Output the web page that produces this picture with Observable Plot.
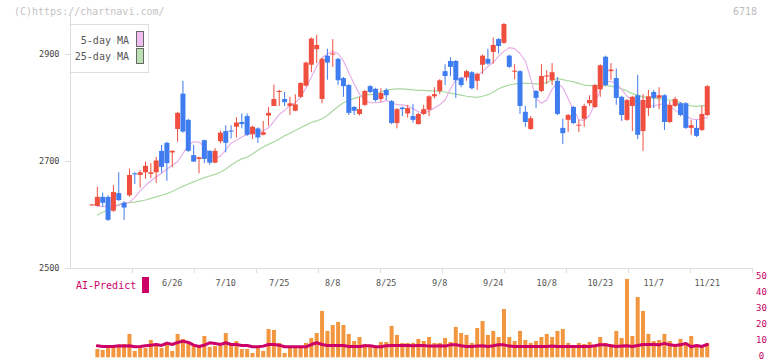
<!DOCTYPE html>
<html><head><meta charset="utf-8">
<script src="https://cdn.jsdelivr.net/npm/d3@7"></script>
<script src="https://cdn.jsdelivr.net/npm/@observablehq/plot@0.6"></script>
<style>
body{margin:0;background:#fff;}
#wrap{position:relative;width:772px;height:361px;overflow:hidden;font-family:"DejaVu Sans Mono",monospace;}
#wrap svg{position:absolute;left:0;top:0;}
.t{position:absolute;white-space:pre;font-size:10px;line-height:12px;}
.sw{position:absolute;box-sizing:border-box;}
</style></head><body><div id="wrap"></div>
<script>
// ---- data ----
const open = [2617,2616,2633,2633,2607,2640,2622,2636,2677,2674, 2679,2676,2679,2719,2734,2716,2760,2826,2777,2711, 2704,2739,2719,2697,2737,2756,2757,2764,2773,2784, 2750,2761,2749,2785,2803,2829,2816,2803,2794,2820, 2841,2880,2909,2816,2897,2899,2891,2855,2842,2801, 2788,2805,2840,2835,2816,2833,2812,2771,2800,2789, 2784,2769,2788,2796,2821,2831,2868,2887,2887,2855, 2857,2866,2850,2880,2891,2904,2928,2921,2897,2867, 2868,2792,2760,2831,2831,2858,2851,2850,2762,2777, 2801,2766,2779,2808,2801,2834,2895,2868,2855,2820, 2777,2803,2823,2756,2799,2829,2818,2823,2773,2803, 2808,2808,2762,2762,2758,2786];
const high = [2619,2652,2641,2636,2655,2679,2625,2686,2679,2683, 2699,2696,2708,2730,2736,2720,2792,2850,2779,2730, 2708,2740,2720,2724,2757,2767,2767,2782,2789,2789, 2766,2763,2775,2801,2843,2833,2829,2820,2825,2847, 2886,2931,2936,2893,2910,2928,2893,2857,2844,2803, 2820,2833,2842,2837,2836,2836,2814,2799,2802,2805, 2807,2790,2805,2823,2838,2853,2881,2894,2889,2857, 2870,2868,2865,2899,2910,2931,2930,2958,2899,2881, 2870,2803,2784,2833,2881,2870,2883,2857,2779,2788, 2803,2777,2807,2823,2844,2881,2897,2883,2873,2822, 2816,2822,2861,2825,2833,2833,2838,2825,2812,2820, 2810,2810,2777,2777,2803,2842];
const low = [2617,2616,2615,2588,2605,2625,2590,2633,2657,2650, 2667,2668,2659,2678,2663,2689,2736,2753,2717,2698, 2677,2696,2693,2696,2733,2716,2742,2744,2761,2747, 2741,2734,2748,2766,2803,2803,2803,2786,2793,2818, 2839,2866,2883,2808,2852,2876,2842,2820,2786,2786, 2785,2803,2827,2811,2811,2814,2769,2761,2784,2781, 2772,2768,2786,2784,2817,2825,2842,2859,2818,2838, 2850,2834,2833,2863,2880,2882,2901,2919,2874,2853, 2788,2764,2758,2799,2829,2844,2842,2786,2732,2754, 2769,2754,2764,2803,2799,2820,2840,2852,2805,2775, 2775,2756,2741,2719,2784,2799,2797,2758,2771,2801, 2784,2760,2749,2745,2756,2784];
const close = [2619,2633,2622,2590,2642,2627,2613,2674,2675,2679, 2691,2679,2701,2689,2696,2719,2790,2755,2719,2699, 2707,2704,2697,2719,2753,2734,2755,2772,2769,2749, 2764,2744,2754,2790,2816,2831,2810,2808,2806,2846, 2884,2929,2917,2891,2884,2901,2851,2840,2790,2794, 2797,2831,2829,2814,2827,2823,2771,2797,2797,2799, 2777,2788,2797,2821,2825,2851,2859,2876,2851,2842, 2868,2836,2863,2897,2882,2917,2915,2956,2876,2869, 2803,2773,2780,2818,2859,2860,2866,2788,2752,2786, 2771,2768,2803,2814,2842,2879,2842,2871,2818,2786, 2814,2820,2749,2814,2821,2818,2823,2773,2805,2816, 2786,2762,2767,2747,2788,2840];
const ma5 = [null, 2616,2616,2615,2615,2618,2622,2624,2633,2645, 2655,2664,2671,2678,2686,2693,2700,2715,2731,2737, 2736,2728,2714,2706,2710,2722,2734,2740,2746,2751, 2756,2757,2757,2763,2775,2788,2796,2804,2810,2820, 2838,2858,2878,2894,2901,2906,2902,2888,2866,2845, 2826,2814,2810,2810,2811,2814,2810,2806,2806,2804, 2799,2793,2791,2794,2800,2806,2815,2836,2852,2857, 2857,2857,2860,2868,2878,2885,2897,2906,2913,2911, 2902,2888,2855,2818,2809,2815,2835,2847,2838,2818, 2797,2778,2777,2786,2808,2834,2849,2850,2846,2835, 2822,2815,2810,2808,2803,2804,2806,2809,2803,2796, 2789,2785,2780,2778,2780,2782];
const ma25 = [null, 2600,2605,2610,2615,2620,2622,2623,2624,2626, 2628,2631,2634,2637,2640,2644,2649,2654,2658,2662, 2666,2670,2673,2676,2680,2686,2693,2700,2705,2708, 2714,2721,2727,2732,2737,2742,2748,2753,2758,2763, 2768,2773,2776,2780,2786,2795,2803,2810,2814,2818, 2821,2825,2825,2826,2830,2833,2835,2836,2836,2835, 2834,2833,2833,2832,2832,2831,2830,2828,2826,2824, 2822,2821,2820,2822,2825,2830,2836,2840,2843,2845, 2846,2846,2846,2845,2845,2848,2852,2855,2853,2851, 2849,2846,2843,2842,2842,2842,2842,2841,2839,2836, 2832,2827,2824,2821,2819,2818,2817,2816,2815,2813, 2810,2806,2804,2803,2804,2805];
const volume = [null, 5.2,4.6,5.8,6.5,7.1,8.3,14.6,4.0,5.8, 5.8,10.8,8.3,5.8,8.3,4.0,14.6,11.5,8.3,7.1, 7.1,13.3,6.5,7.1,7.1,15.2,8.3,10.2,5.2,5.2, 2.7,5.8,4.0,17.7,17.1,9.0,2.7,6.5,6.5,6.5, 9.0,12.1,15.2,29.0,16.5,20.2,22.1,20.2,14.6,10.2, 12.7,8.3,6.5,6.5,9.6,9.6,19.6,14.0,9.0,9.0, 9.0,11.5,10.2,12.7,9.0,9.0,12.1,9.6,19.0,15.2, 14.0,9.0,18.3,22.7,14.0,16.5,12.7,30.2,12.7,10.2, 16.5,10.8,9.0,10.2,12.7,14.6,12.7,16.5,17.7,9.0, 6.5,9.0,8.3,9.6,6.5,12.7,9.0,8.3,16.5,12.1, 49.0,13.3,37.7,29.0,14.6,10.2,10.8,14.6,10.2,7.7, 11.5,9.0,13.3,7.7,6.5,9.0];
const aiPredict = [null, 7.5,7.1,7.1,7.1,7.5,7.3,7.5,6.9,7.1, 7.5,7.9,8.3,7.7,9.2,8.3,9.6,10.4,9.6,7.9, 7.1,7.9,9.4,9.0,8.3,9.4,8.3,8.3,7.7,7.7, 6.9,6.9,7.3,8.3,8.3,7.9,6.9,6.9,6.9,6.9, 6.9,8.3,9.4,8.3,7.7,7.7,7.7,7.7,7.1,7.1, 7.1,7.5,7.5,6.9,6.9,7.5,7.7,7.7,7.7,7.7, 7.5,7.7,7.7,7.3,7.3,7.5,7.3,8.1,8.1,7.5, 7.1,7.1,7.3,7.5,7.1,7.5,8.1,8.1,7.3,7.1, 7.1,7.1,7.1,7.1,7.1,7.1,7.3,7.1,7.1,7.1, 7.1,7.1,7.1,7.1,7.5,8.1,8.1,7.5,7.1,7.3, 7.5,7.1,7.7,8.3,8.3,8.3,8.1,9.0,8.1,7.7, 8.1,9.0,6.9,7.7,7.1,8.3];
const dateLabels = ["6/26","7/10","7/25","8/8","8/25","9/8","9/24","10/8","10/23","11/7","11/21"];
const dateIdx = [15,25,35,45,55,65,75,85,95,105,115];
const priceTicks = [2500,2700,2900];
const volTicks = [0,10,20,30,40,50];
const xDomain = [-4.02, 123.46];
const gridTicks = [7.57,19.16,30.75,42.34,53.93,65.51,77.1,88.69,100.28,111.87,123.46];

// ---- build ----
const RED = "#f04e3e", BLUE = "#3f7cf0";
const candles = open.map((o,i)=>({i, o, h: high[i], l: low[i], c: close[i]}));
const up = candles.filter(d=>d.c>=d.o), down = candles.filter(d=>d.c<d.o);
const rows = open.map((_,i)=>({i, m5: ma5[i], m25: ma25[i], v: volume[i], ai: aiPredict[i]}));
const font = "DejaVu Sans Mono";

const main = Plot.plot({
  width: 772, height: 361,
  marginLeft: 70, marginRight: 20, marginTop: 15, marginBottom: 93,
  x: {domain: xDomain, axis: null},
  y: {domain: [2500, 2973], axis: null},
  style: {fontFamily: font, background: "#fff"},
  marks: [
    Plot.ruleY([priceTicks[0]], {stroke: "#ddd"}),
    Plot.ruleX([xDomain[0]], {stroke: "#ddd"}),
    Plot.axisY({ticks: priceTicks, tickSize: 5, tickPadding: 6, stroke: "#ddd", fill: "#444", fontSize: 8.5, tickFormat: d=>String(d), label: null}),
    Plot.axisX({ticks: gridTicks, tickSize: 5, stroke: "#ddd", tickFormat: ()=>"", label: null}),
    Plot.axisX({ticks: dateIdx, tickSize: 0, tickPadding: 11, fill: "#555", fontSize: 8.5, tickFormat: d=>dateLabels[dateIdx.indexOf(d)], label: null}),
    Plot.line(rows, {x: "i", y: "m25", stroke: "#abd8a0", strokeWidth: 1.2}),
    Plot.line(rows, {x: "i", y: "m5", stroke: "#e6a9e6", strokeWidth: 1.1}),
    Plot.ruleX(up, {x: "i", y1: "l", y2: "h", stroke: RED, strokeWidth: 1}),
    Plot.ruleX(down, {x: "i", y1: "l", y2: "h", stroke: BLUE, strokeWidth: 1}),
    Plot.ruleX(up, {x: "i", y1: "o", y2: "c", stroke: RED, strokeWidth: 5}),
    Plot.ruleX(down, {x: "i", y1: "o", y2: "c", stroke: BLUE, strokeWidth: 5})
  ]
});

const vol = Plot.plot({
  width: 772, height: 361,
  marginLeft: 70, marginRight: 20, marginTop: 277.3, marginBottom: 3.7,
  x: {domain: xDomain, axis: null},
  y: {domain: [0, 50], axis: null},
  style: {fontFamily: font, background: "transparent"},
  marks: [
    Plot.ruleX(rows.filter(d=>d.v!=null), {x: "i", y1: 0, y2: "v", stroke: "#f2973f", strokeWidth: 4}),
    Plot.line(rows, {x: "i", y: "ai", stroke: "#cc0066", strokeWidth: 3}),
    Plot.text(volTicks, {x: xDomain[1], y: d=>d, dx: 9, dy: -2, text: d=>String(d), fill: "#c8005f", fontSize: 9, textAnchor: "middle"})
  ]
});

const wrap = document.getElementById("wrap");
wrap.appendChild(main);
wrap.appendChild(vol);

function addText(txt, css){ const e=document.createElement("div"); e.className="t"; e.textContent=txt; Object.assign(e.style, css); wrap.appendChild(e); return e; }
function addBox(css){ const e=document.createElement("div"); e.className="sw"; Object.assign(e.style, css); wrap.appendChild(e); return e; }

addText("(C)https://chartnavi.com/", {left:"14px", top:"6px", color:"#c4c4c4"});
addText("6718", {left:"733px", top:"6px", color:"#bbb"});
// legend box
addBox({left:"70px", top:"24px", width:"79px", height:"49px", border:"1px solid #ddd", background:"#fff"});
addText("5-day MA", {left:"70px", width:"59px", textAlign:"right", top:"35px", color:"#555"});
addText("25-day MA", {left:"70px", width:"59px", textAlign:"right", top:"51px", color:"#555"});
addBox({left:"136px", top:"31px", width:"8px", height:"16px", border:"1px solid #666", background:"#f0bdf0"});
addBox({left:"136px", top:"48px", width:"8px", height:"16px", border:"1px solid #666", background:"#bcdfb2"});
// AI-Predict legend
addText("AI-Predict", {left:"76px", top:"280px", color:"#cc0066"});
addBox({left:"142px", top:"277px", width:"7px", height:"16px", background:"#cc0066"});
</script></body></html>
